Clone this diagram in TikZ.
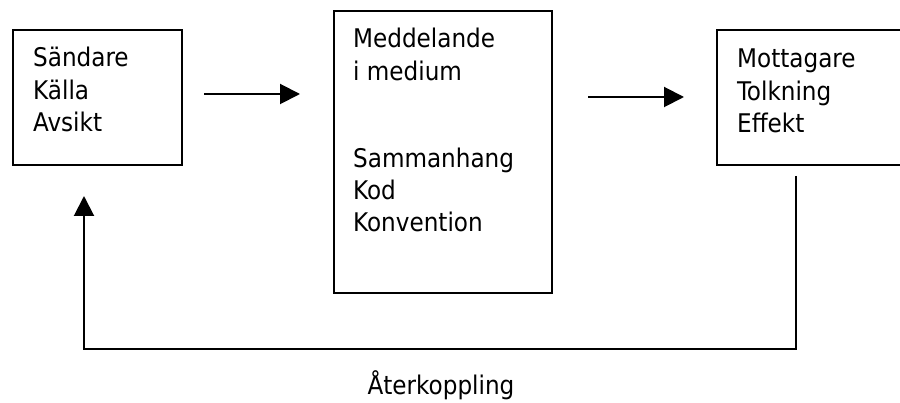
\documentclass[tikz,border=0pt]{standalone}
\usepackage{fontspec}
\setmainfont{DejaVu Sans Condensed}
\usetikzlibrary{arrows.meta}
\begin{document}
\begin{tikzpicture}[x=1pt,y=-1pt,
  box/.style={draw,line width=2pt,inner sep=0pt,anchor=north west},
  txt/.style={anchor=base west,align=left,inner sep=0pt,font=\fontsize{25.7}{32.3}\selectfont},
  conn/.style={line width=2pt,-{Triangle[length=20pt,width=20pt]}}]
\useasboundingbox (0,0) rectangle (900,403);
\node[box,minimum width=169pt,minimum height=135pt] (b1) at (12,29) {};
\node[box,minimum width=218pt,minimum height=282pt] (b2) at (333,10) {};
\node[box,minimum width=190pt,minimum height=135pt] (b3) at (716,29) {};
\node[txt] (t1) at (33,131.6) {Sändare\\Källa\\Avsikt};
\node[txt] (t2) at (353,232) {Meddelande\\i medium\\[55pt]Sammanhang\\Kod\\Konvention};
\node[txt] (t3) at (737,132.6) {Mottagare\\Tolkning\\Effekt};
\coordinate (a1s) at (204,94);
\coordinate (a1e) at (300,94);
\coordinate (a2s) at (588,97);
\coordinate (a2e) at (684,97);
\draw[conn] (a1s) -- (a1e);
\draw[conn] (a2s) -- (a2e);
\coordinate (fs) at (796,176);
\coordinate (fe) at (84,196);
\draw[conn] (fs) |- (84,349) -- (fe);
\node[anchor=base,inner sep=0pt,font=\fontsize{25.7}{32.3}\selectfont] (lbl) at (441,395) {Återkoppling};
\end{tikzpicture}
\end{document}
